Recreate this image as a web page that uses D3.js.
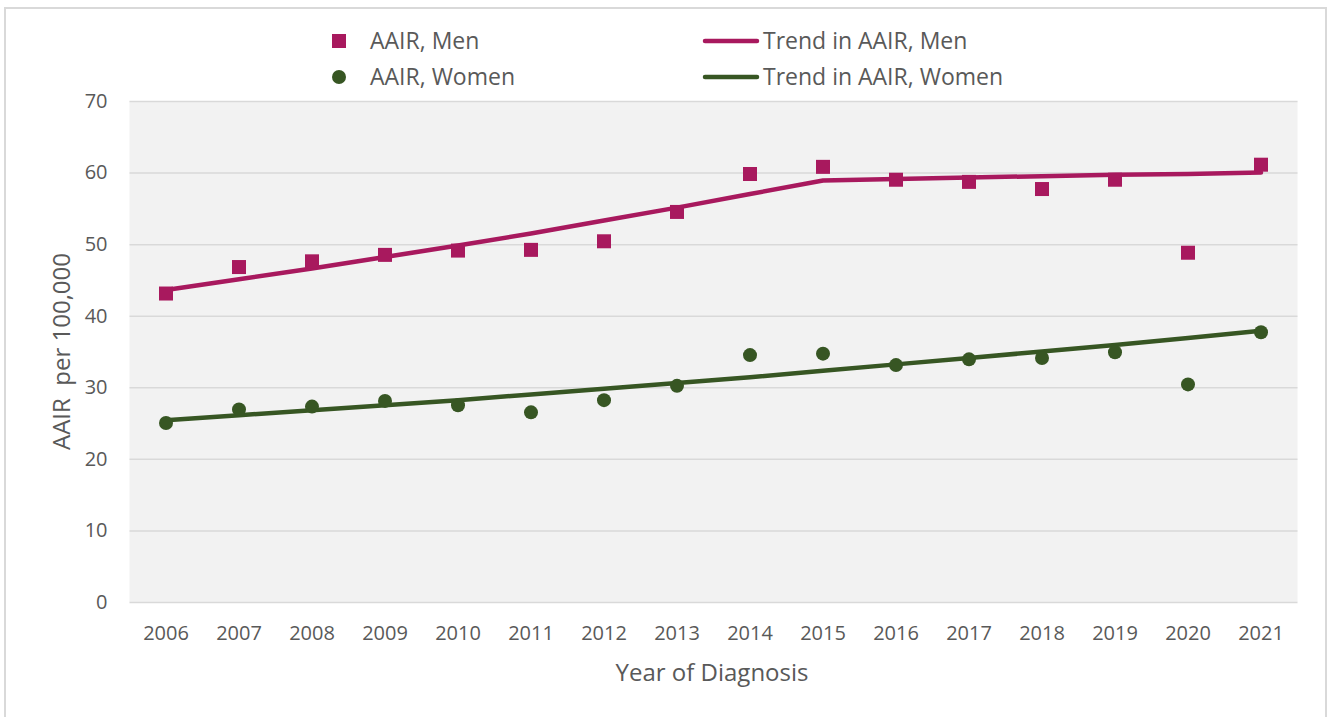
<!DOCTYPE html>
<html>
<head>
<meta charset="utf-8">
<script src="https://cdn.jsdelivr.net/npm/d3@7"></script>
<style>
  body { margin: 0; background: #fff; }
  text { font-family: "Open Sans", sans-serif; fill: #595959; }
</style>
</head>
<body>
<div id="chart"></div>
<script>
// Data
const years = ["2006", "2007", "2008", "2009", "2010", "2011", "2012", "2013",
               "2014", "2015", "2016", "2017", "2018", "2019", "2020", "2021"];
const aairMen = [43.1, 46.8, 47.6, 48.5, 49.1, 49.2, 50.4, 54.5,
                 59.8, 60.8, 59.0, 58.7, 57.7, 59.0, 48.8, 61.1];
const aairWomen = [25.0, 26.9, 27.3, 28.1, 27.5, 26.5, 28.2, 30.2,
                   34.5, 34.7, 33.1, 33.9, 34.1, 34.9, 30.4, 37.7];
const trendMen = [43.6, 45.1, 46.6, 48.2, 49.8, 51.5, 53.3, 55.1,
                  57.0, 58.9, 59.1, 59.3, 59.5, 59.7, 59.8, 60.0];
const trendWomen = [25.4, 26.1, 26.8, 27.5, 28.2, 29.0, 29.8, 30.6,
                    31.4, 32.3, 33.2, 34.1, 35.0, 35.9, 36.9, 37.9];
const yTicks = [0, 10, 20, 30, 40, 50, 60, 70];

const legendItems = [
    { label: "AAIR, Men", type: "square", color: "#a8195e", col: 0, row: 0 },
    { label: "Trend in AAIR, Men", type: "line", color: "#a8195e", col: 1, row: 0 },
    { label: "AAIR, Women", type: "circle", color: "#375623", col: 0, row: 1 },
    { label: "Trend in AAIR, Women", type: "line", color: "#375623", col: 1, row: 1 }
];

// Dimensions
const width = 1331;
const height = 717;
const plot = { left: 129.5, right: 1297.5, top: 101, bottom: 602 };

const svg = d3.select("#chart").append("svg")
    .attr("width", width)
    .attr("height", height);

// Outer frame
svg.append("rect")
    .attr("x", 5)
    .attr("y", 8)
    .attr("width", 1321)
    .attr("height", 720)
    .attr("fill", "#fff")
    .attr("stroke", "#d9d9d9")
    .attr("stroke-width", 2);

// Scales
const x = d3.scaleBand()
    .domain(years)
    .range([plot.left, plot.right]);

const y = d3.scaleLinear()
    .domain([0, 70])
    .range([plot.bottom, plot.top]);

const xc = (d, i) => x(years[i]) + x.bandwidth() / 2;

// Plot background
svg.append("rect")
    .attr("x", plot.left)
    .attr("y", plot.top)
    .attr("width", plot.right - plot.left)
    .attr("height", plot.bottom - plot.top)
    .attr("fill", "#f2f2f2");

// Gridlines + y labels
const yAxis = svg.append("g")
    .attr("transform", "translate(" + plot.left + ",0)")
    .call(d3.axisLeft(y)
        .tickValues(yTicks)
        .tickSize(-(plot.right - plot.left))
        .tickPadding(22));

yAxis.select(".domain").remove();
yAxis.selectAll(".tick line")
    .attr("stroke", "#d9d9d9")
    .attr("stroke-width", 1.5);
yAxis.selectAll(".tick text")
    .attr("font-size", 20)
    .style("fill", "#595959");

// X axis labels
const xAxis = svg.append("g")
    .attr("transform", "translate(0," + plot.bottom + ")")
    .call(d3.axisBottom(x).tickSize(0).tickPadding(24));

xAxis.select(".domain").remove();
xAxis.selectAll(".tick text")
    .attr("font-size", 20)
    .style("fill", "#595959");

// Axis titles
svg.append("text")
    .attr("x", 712)
    .attr("y", 681)
    .attr("text-anchor", "middle")
    .attr("font-size", 24)
    .text("Year of Diagnosis");

svg.append("text")
    .attr("transform", "translate(70," + ((plot.top + plot.bottom) / 2) + ") rotate(-90)")
    .attr("text-anchor", "middle")
    .attr("font-size", 24)
    .style("white-space", "pre")
    .text("AAIR  per 100,000");

// Trend lines
const line = d3.line()
    .x(xc)
    .y(d => y(d));

svg.append("path")
    .datum(trendMen)
    .attr("d", line)
    .attr("fill", "none")
    .attr("stroke", "#a8195e")
    .attr("stroke-width", 4.5)
    .attr("stroke-linejoin", "round")
    .attr("stroke-linecap", "round");

svg.append("path")
    .datum(trendWomen)
    .attr("d", line)
    .attr("fill", "none")
    .attr("stroke", "#375623")
    .attr("stroke-width", 4.5)
    .attr("stroke-linejoin", "round")
    .attr("stroke-linecap", "round");

// Markers
const sq = 14;
svg.append("g").selectAll("rect")
    .data(aairMen)
    .enter()
    .append("rect")
    .attr("x", (d, i) => xc(d, i) - sq / 2)
    .attr("y", d => y(d) - sq / 2)
    .attr("width", sq)
    .attr("height", sq)
    .attr("fill", "#a8195e");

svg.append("g").selectAll("circle")
    .data(aairWomen)
    .enter()
    .append("circle")
    .attr("cx", xc)
    .attr("cy", d => y(d))
    .attr("r", 7)
    .attr("fill", "#375623");

// Legend
const legendCols = [339, 731];
const legendRows = [41, 77];

const legend = svg.append("g").attr("class", "legend");
legendItems.forEach(item => {
    const cx = legendCols[item.col];
    const cy = legendRows[item.row];
    const g = legend.append("g");
    if (item.type === "square") {
        g.append("rect")
            .attr("x", cx - 7).attr("y", cy - 7)
            .attr("width", 14).attr("height", 14)
            .attr("fill", item.color);
        g.append("text")
            .attr("x", cx + 31).attr("y", cy + 8)
            .attr("font-size", 23)
            .text(item.label);
    } else if (item.type === "circle") {
        g.append("circle")
            .attr("cx", cx).attr("cy", cy).attr("r", 7)
            .attr("fill", item.color);
        g.append("text")
            .attr("x", cx + 31).attr("y", cy + 8)
            .attr("font-size", 23)
            .text(item.label);
    } else {
        g.append("line")
            .attr("x1", cx - 26).attr("x2", cx + 26)
            .attr("y1", cy).attr("y2", cy)
            .attr("stroke", item.color)
            .attr("stroke-width", 4.5)
            .attr("stroke-linecap", "round");
        g.append("text")
            .attr("x", cx + 32).attr("y", cy + 8)
            .attr("font-size", 23)
            .text(item.label);
    }
});
</script>
</body>
</html>
